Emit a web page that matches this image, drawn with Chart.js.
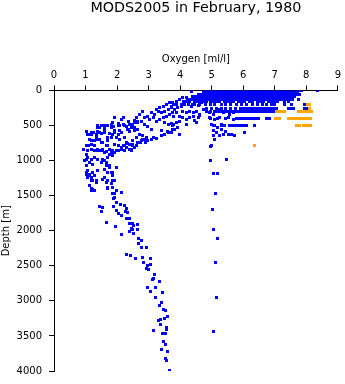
<!DOCTYPE html>
<html>
<head>
<meta charset="utf-8">
<script src="https://cdn.jsdelivr.net/npm/chart.js@4/dist/chart.umd.min.js"></script>
<style>
  html, body { margin: 0; padding: 0; background: #fff; }
  #chart { display: block; }
</style>
</head>
<body>
<canvas id="chart" width="345" height="384"></canvas>
<script>
// Oxygen profiles, February 1980. Depth in metres, oxygen in ml/l.

// casts reported at standard levels: one list of oxygen values per depth
const levelDepths = [0, 30, 60, 90, 125, 150, 200, 250, 300, 400, 500];
const levelOxygen = [
  [4.78,4.87,4.96,5.05,5.14,5.23,5.32,5.41,5.5,5.59,5.68,5.77,5.86,5.95,6.04,6.13,6.22,6.31,6.4,6.49,6.58,6.67,6.76,6.85,6.94,7.03,7.12,7.21,7.3,7.39,7.48,7.57,7.66,7.74,7.85,8.35],
  [4.74,4.83,4.92,5.01,5.1,5.19,5.28,5.37,5.46,5.55,5.64,5.73,5.82,5.91,6.0,6.09,6.18,6.27,6.36,6.45,6.54,6.63,6.72,6.81,6.9,6.99,7.08,7.17,7.26,7.35,7.44,7.53,7.62,7.71],
  [4.58,4.67,4.76,4.85,4.94,5.03,5.12,5.21,5.3,5.39,5.48,5.57,5.66,5.75,5.84,5.93,6.02,6.11,6.2,6.29,6.38,6.47,6.56,6.65,6.74,6.83,6.92,7.01,7.1,7.19,7.28,7.37,7.46,7.55,7.64,7.72,7.8],
  [4.4,4.49,4.58,4.67,4.76,4.85,4.94,5.03,5.12,5.21,5.3,5.39,5.48,5.57,5.66,5.75,5.84,5.93,6.02,6.11,6.2,6.29,6.38,6.47,6.56,6.65,6.74,6.83,6.92,7.01,7.1,7.19,7.28,7.37,7.46,7.55,7.64],
  [4.22,4.31,4.4,4.49,4.58,4.67,4.76,4.85,4.94,5.03,5.12,5.21,5.3,5.39,5.48,5.57,5.66,5.75,5.84,5.93,6.02,6.11,6.2,6.29,6.38,6.47,6.56,6.65,6.74,6.83,6.92,7.01,7.1,7.19,7.28,7.37,7.46,7.55,7.74],
  [4.1,4.2,4.3,4.45,4.55,4.65,4.75,4.85,4.95,5.05,5.15,5.25,5.4,5.5,5.6,5.7,5.85,5.95,6.05,6.2,6.3,6.45,6.55,6.65,6.8,6.9,7.0,7.1,7.3,7.45],
  [3.9,4.05,4.25,4.4,4.6,4.8,4.95,5.1,5.3,5.45,5.6,5.8,5.95,6.1,6.3,6.45,6.6,6.75,6.9,7.0,7.3,7.53,7.95],
  [4.85,5.0,5.15,5.3,5.45,5.6,5.75,5.9,5.99,6.08,6.17,6.26,6.35,6.44,6.53,6.62,6.71,6.8,6.89,6.98,7.05,7.45,7.53,7.6,7.95,8.02],
  [4.95,5.1,5.25,5.33,5.42,5.51,5.6,5.69,5.78,5.87,5.96,6.05,6.14,6.23,6.32,6.41,6.5,6.59,6.68,6.77,6.86,6.95],
  [4.95,5.2,5.45,5.8,5.89,5.98,6.07,6.16,6.22,6.32,6.41,6.5,6.74,6.83],
  [5.05,5.3,5.58,5.67,5.76,5.85,5.94,6.03,6.1,6.37]
];

// flagged values (orange)
const flaggedDepths = [200, 250, 300, 400, 500, 780];
const flaggedOxygen = [
  [8.05, 8.1],
  [8.1],
  [7.05, 7.14, 7.23, 7.3, 7.75, 7.84, 7.93, 8.02, 8.11, 8.17],
  [7.02, 7.1, 7.16, 7.43, 7.52, 7.61, 7.69, 7.78, 7.87, 7.96, 8.05, 8.14],
  [7.7, 7.78, 7.9, 7.98, 8.06, 8.12],
  [6.37]
];

// [oxygen, depth] — oxycline band between 0 and ~900 m
const oxyclinePoints = [
  [4.37,15],[3.25,270],[3.35,246],[3.46,222],[3.56,199],[3.67,175],[3.77,175],[3.72,222],[3.62,270],[3.51,293],
  [3.40,317],[3.30,293],[3.19,341],[3.09,317],[2.98,364],[2.87,388],[3.03,412],[3.14,388],[3.25,435],[3.35,412],
  [3.46,388],[3.56,364],[3.67,341],[3.77,317],[3.51,459],[3.62,483],[3.72,473],[3.77,506],[3.40,577],[3.51,625],
  [3.62,601],[2.82,293],[2.72,341],[2.61,388],[2.56,426],[2.66,459],[2.50,483],[2.35,435],[2.24,506],[2.35,554],
  [2.45,530],[2.56,577],[2.66,554],[2.72,625],[2.82,648],[2.93,672],[2.61,672],[2.50,719],[2.40,766],[2.29,743],
  [2.24,790],[2.13,814],[2.03,790],[1.92,766],[1.98,672],[2.03,625],[2.13,601],[2.19,388],[2.13,412],[1.92,388],
  [1.87,459],[1.82,530],[1.71,506],[1.60,530],[1.50,506],[1.39,530],[1.45,601],[1.60,601],[1.71,672],[1.87,625],
  [1.92,577],[2.03,506],[1.34,625],[1.18,601],[1.08,625],[1.13,695],[1.23,719],[1.39,695],[1.50,743],[1.29,790],
  [1.08,790],[1.18,837],[1.39,861],[1.55,837],[1.66,790],[1.76,837],[1.87,861],[2.03,861],[2.24,861],[2.40,837],
  [2.50,790],[2.56,814],[2.66,743],[2.77,719],[2.87,695],
  [3.78,199],[3.88,152],[3.99,128],[4.09,104],[4.20,104],[4.30,128],[4.41,104],[4.52,128],[4.62,114],[3.72,246],
  [3.83,270],[3.93,246],[4.04,222],[4.15,199],[4.25,199],[4.36,222],[4.46,199],[4.57,208],[4.68,175],[3.67,341],
  [3.78,364],[3.88,317],[3.99,364],[4.09,293],[4.20,317],[4.30,293],[4.41,317],[4.52,293],[4.62,341],[4.73,270],
  [4.09,388],[4.20,412],[4.30,388],[4.41,364],[4.57,388],[3.78,483],[3.88,459],[3.99,435],[3.83,554],[3.93,530],
  [3.72,601],[3.99,625],[3.10,700],[3.25,690],[3.40,640],[3.60,580],[2.90,740],[2.75,745],[4.51,459],[4.62,355],
  [3.76,553],[4.20,480],[4.45,430],
  [1.39,496],[1.44,529],[1.60,496],[1.71,506],[1.81,482],[1.90,515],[2.03,468],[2.08,506],[2.19,482],[2.29,515],
  [2.40,482],[2.56,458],[2.66,435],[2.77,449],[2.87,482],[2.98,515],[3.09,562],[2.32,553],[2.40,591],[2.56,529],
  [2.08,577],[1.92,600],[1.76,610],[1.60,577],[1.50,610],[1.39,591],[1.26,600],[1.18,624],[1.07,624],[1.02,591],
  [1.34,671],[1.44,695],[1.29,718],[1.18,718],[1.55,742],[1.71,718],[1.81,671],[1.97,671],[2.08,695],[2.24,671],
  [2.34,751],[2.50,766],[2.61,789],[2.71,742],[2.82,695],[2.98,718],[3.14,671],[2.13,837],[2.03,860],[1.92,884],
  [1.87,931],[1.76,907],[1.60,884],[1.50,860],[1.39,837],[1.02,780],[1.07,780],[1.18,766],[0.92,837],[1.71,789],
  [2.19,789],[2.29,813],[2.45,837]
];

// [oxygen, depth] — low-oxygen core, ~850 to 1500 m
const corePoints = [
  [1.02,907],[1.07,955],[1.18,978],[1.29,955],[1.13,1026],[1.02,1073],[0.97,1002],[1.39,978],[1.50,1026],[1.60,1002],
  [1.71,955],[1.66,1073],[1.60,1120],[1.76,1097],[1.71,1168],[1.87,1168],[1.07,1144],[1.02,1191],[1.13,1215],[1.18,1238],
  [1.23,1286],[1.34,1286],[1.39,1144],[1.60,1238],[1.71,1286],[1.92,1286],[1.81,1333],[1.87,1380],[1.71,1404],[1.66,1309],
  [1.13,1357],[1.18,1404],[1.29,1428],[1.97,1428],[2.13,1451],[1.92,1475],
  [0.92,846],[1.07,861],[1.29,851],[1.44,861],[1.66,875],[1.82,884],[1.97,861],[2.13,846],[2.45,851],[1.02,979],
  [1.13,1026],[1.23,1050],[1.55,988],[1.66,1026],[1.76,1074],[1.97,1097],[1.02,1168],[1.13,1192],[1.23,1168],[1.29,1215],
  [1.39,1144],[1.60,1121],[1.71,1168],[1.82,1168],[1.87,1215],[1.07,1239],[1.18,1286],[1.34,1310],[1.55,1263],[1.66,1310],
  [1.87,1286],[1.23,1405],[1.18,1428],[1.71,1381],[1.87,1381],[1.87,1475],[1.92,1523]
];

// [oxygen, depth] — deep profile below 1500 m
const deepPoints = [
  [1.90,1546],[1.44,1650],[1.53,1664],[1.89,1650],[1.97,1593],[2.10,1631],[2.24,1641],[2.31,1678],[1.99,1716],[2.03,1749],
  [1.51,1721],[2.15,1778],[2.27,1726],[2.34,1745],[2.29,1830],[2.38,1830],[2.40,1901],[2.48,1901],[2.52,1925],[2.45,1962],
  [2.50,1981],[2.66,1915],[2.66,1986],[2.40,2009],[2.52,2033],[1.68,1877],[1.95,1934],[2.13,2057],[2.67,2113],[2.77,2132],
  [2.69,2180],[2.76,2232],[2.93,2232],[2.31,2340],[2.44,2359],[2.57,2397],[2.82,2388],[3.06,2402],[2.85,2459],[3.06,2478],
  [2.96,2492],[2.93,2539],[3.01,2558],[3.19,2624],[3.16,2681],[3.11,2690],[3.35,2728],[2.95,2813],[3.23,2813],[3.06,2860],
  [3.45,2879],[3.22,2950],[3.40,3021],[3.33,3068],[3.48,3125],[3.55,3139],[3.61,3224],[3.49,3248],[3.39,3267],[3.30,3286],
  [3.39,3333],[3.58,3381],[3.56,3409],[3.14,3423],[3.45,3461],[3.54,3471],[3.48,3579],[3.54,3617],[3.42,3698],[3.60,3721],
  [3.53,3820],[3.56,3849],[3.67,3991]
];

// [oxygen, depth] — well-oxygenated station near 5 ml/l
const stationPoints = [
  [4.83,293],[4.94,317],[5.05,341],[5.15,293],[5.26,270],[5.36,317],[5.47,293],[5.57,341],[5.68,317],[4.94,388],
  [5.10,412],[5.26,388],[5.52,388],[5.68,412],[5.00,483],[5.10,506],[5.20,530],[5.31,483],[5.42,506],[5.63,506],
  [5.05,577],[5.15,601],[5.26,648],[5.36,625],[5.52,625],[5.63,625],[5.73,648],[5.05,648],[5.00,790],[6.05,601],
  [5.30,560],[5.45,580],[5.10,700],[4.97,800],[5.48,980],[4.97,1000],[5.07,1190],[5.19,1180],[5.13,1475],[5.04,1702],
  [5.07,1976],[5.18,2104],[5.13,2454],[5.15,2955],[5.07,3433]
];

const xTicks = [0, 1, 2, 3, 4, 5, 6, 7, 8, 9];
const yTicks = [0, 500, 1000, 1500, 2000, 2500, 3000, 3500, 4000];

function fromLevels(depths, values) {
  const pts = [];
  depths.forEach((d, i) => values[i].forEach(o => pts.push({ x: o, y: d })));
  return pts;
}
const toXY = list => list.map(p => ({ x: p[0], y: p[1] }));

const blueData = fromLevels(levelDepths, levelOxygen)
  .concat(toXY(oxyclinePoints), toXY(corePoints), toXY(deepPoints), toXY(stationPoints));
const orangeData = fromLevels(flaggedDepths, flaggedOxygen);

// 3x3 pixel marker, drawn without smoothing so the squares stay crisp
function squareMarker(color) {
  const c = document.createElement('canvas');
  c.width = 3;
  c.height = 3;
  const g = c.getContext('2d');
  g.fillStyle = color;
  g.fillRect(0, 0, 3, 3);
  return c;
}

const crispPoints = {
  id: 'crispPoints',
  beforeDatasetsDraw(chart) { chart.ctx.imageSmoothingEnabled = false; },
  afterDatasetsDraw(chart) { chart.ctx.imageSmoothingEnabled = true; }
};

const family = '"DejaVu Sans", sans-serif';
const tickFont = { family: family, size: 10 };
const titleFont = { family: family, size: 14.3, weight: 'normal', lineHeight: 1.2 };
const TITLE_H = titleFont.size * titleFont.lineHeight;

const ctx = document.getElementById('chart');
new Chart(ctx, {
  type: 'scatter',
  data: {
    datasets: [
      { label: 'flagged', data: orangeData, backgroundColor: '#ffa500', pointStyle: squareMarker('#ffa500') },
      { label: 'MODS2005', data: blueData, backgroundColor: '#0000ff', pointStyle: squareMarker('#0000ff') }
    ]
  },
  options: {
    responsive: false,
    animation: false,
    events: [],
    layout: { padding: { left: 0, right: 7, top: 0, bottom: 2.5 } },
    elements: {
      point: { radius: 2, borderWidth: 0, hoverRadius: 2 }
    },
    plugins: {
      legend: { display: false },
      tooltip: { enabled: false },
      title: {
        display: true,
        fullSize: false,
        text: 'MODS2005 in February, 1980',
        color: '#000',
        font: titleFont,
        padding: { top: 0, bottom: 0 }
      }
    },
    scales: {
      x: {
        type: 'linear',
        position: 'top',
        min: 0,
        max: 9,
        afterBuildTicks: s => { s.ticks = xTicks.map(v => ({ value: v })); },
        afterFit: s => { s.height = 90.5 - TITLE_H; },
        ticks: { color: '#000', font: tickFont, padding: 4, maxRotation: 0 },
        grid: { drawOnChartArea: false, drawTicks: true, tickLength: 5, color: '#000' },
        border: { display: true, color: '#000' },
        title: {
          display: true, text: 'Oxygen [ml/l]', color: '#000', font: tickFont,
          padding: { top: 36, bottom: 0 }
        }
      },
      y: {
        type: 'linear',
        reverse: true,
        min: 0,
        max: 4000,
        afterBuildTicks: s => { s.ticks = yTicks.map(v => ({ value: v })); },
        afterFit: s => { s.width = 54; },
        ticks: { color: '#000', font: tickFont, padding: 7, callback: v => String(v) },
        grid: { drawOnChartArea: false, drawTicks: true, tickLength: 5, color: '#000' },
        border: { display: true, color: '#000' },
        title: {
          display: true, text: 'Depth [m]', color: '#000', font: tickFont,
          padding: { top: 0, bottom: 0 }
        }
      }
    }
  },
  plugins: [crispPoints]
});
</script>
</body>
</html>
